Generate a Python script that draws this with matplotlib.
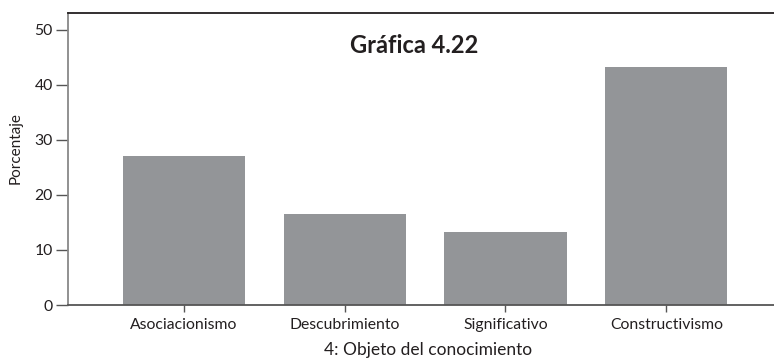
import matplotlib.pyplot as plt

plt.rcParams['font.family'] = ['Lato', 'DejaVu Sans']

categorias = ['Asociacionismo', 'Descubrimiento', 'Significativo', 'Constructivismo']
porcentaje = [27.1, 16.5, 13.3, 43.3]
y_ticks = [0, 10, 20, 30, 40, 50]

fig = plt.figure(figsize=(7.74, 3.64), dpi=100)
ax = fig.add_axes([0.088, 0.162, 0.912, 0.802])

x = list(range(len(categorias)))
ax.bar(x, porcentaje, width=0.76, color='#939598', zorder=2)

ax.set_xlim(-0.72, 3.67)
ax.set_ylim(0, 53)
ax.set_yticks(y_ticks)
ax.set_xticks(x)
ax.set_xticklabels(categorias, fontsize=11.3, color='#231f20')
ax.tick_params(axis='y', length=9, width=1, color='#555555', labelsize=11.3, labelcolor='#231f20', pad=2)
ax.tick_params(axis='x', length=5, width=1, color='#555555', pad=4)

ax.spines['right'].set_visible(False)
ax.spines['top'].set_color('#231f20')
ax.spines['top'].set_linewidth(1.3)
ax.spines['left'].set_color('#888888')
ax.spines['left'].set_linewidth(1.3)
ax.spines['bottom'].set_color('#555555')
ax.spines['bottom'].set_linewidth(1.3)

ax.text(0.49, 0.89, 'Gráfica 4.22', transform=ax.transAxes, ha='center', va='center',
        fontsize=17, fontweight='bold', color='#231f20')

fig.text(0.02, 0.593, 'Porcentaje', rotation=90, ha='center', va='center', fontsize=11, color='#231f20')
fig.text(0.553, 0.038, '4: Objeto del conocimiento', ha='center', va='center', fontsize=12.5, color='#231f20')

fig.savefig('out.png', dpi=100)
